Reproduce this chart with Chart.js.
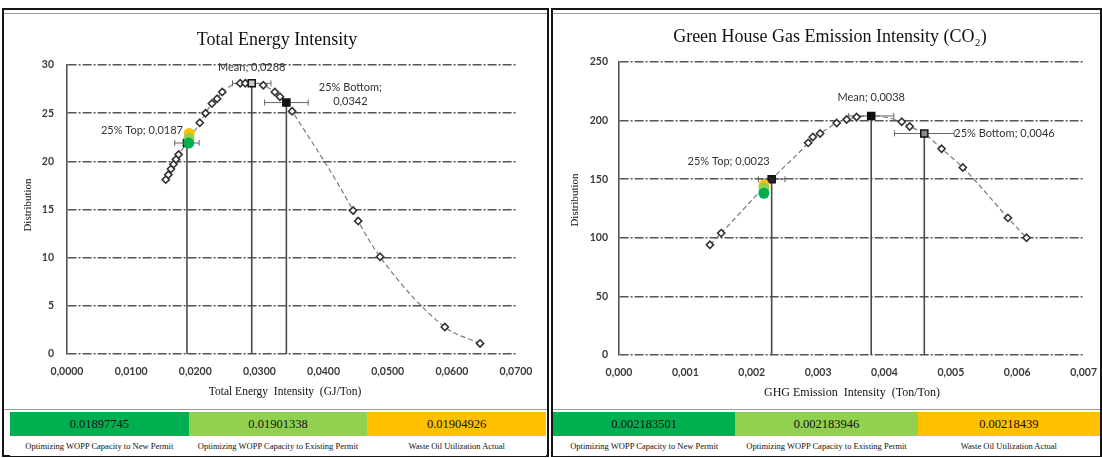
<!DOCTYPE html>
<html>
<head>
<meta charset="utf-8">
<script src="https://cdn.jsdelivr.net/npm/chart.js@4.4.1/dist/chart.umd.min.js"></script>
<style>
  html, body { margin: 0; padding: 0; background: #fff; width: 1102px; height: 458px; overflow: hidden; position: relative; }
  .panel { position: absolute; top: 8px; height: 449px; border: 2px solid #141414; box-sizing: border-box; }
  .rule { position: absolute; height: 0; border-top: 1.5px solid #9a9a9a; }
  canvas { position: absolute; }
  .band { position: absolute; display: flex; }
  .band div { display: flex; align-items: center; justify-content: center; font-family: "Liberation Serif", "Times New Roman", serif; color: #111; }
  .vals div { font-size: 12.5px; height: 24px; }
  .names div { font-size: 8.5px; height: 20px; background: #fff; }
</style>
</head>
<body>
<div class="panel" style="left:2px;width:547px"></div>
<div class="panel" style="left:551px;width:551px"></div>
<div class="rule" style="left:4px;width:543px;top:13px"></div>
<div class="rule" style="left:553px;width:547px;top:13px"></div>
<div class="rule" style="left:4px;width:543px;top:409px"></div>
<div class="rule" style="left:553px;width:547px;top:409px"></div>

<canvas id="energy" width="541" height="397" style="left:5px;top:12px"></canvas>
<canvas id="ghg" width="547" height="397" style="left:553px;top:12px"></canvas>

<div class="band vals" id="energyVals" style="left:10px;top:412px;width:536px"></div>
<div class="band names" id="energyNames" style="left:10px;top:436px;width:536px"></div>
<div class="band vals" id="ghgVals" style="left:553px;top:412px;width:547px"></div>
<div class="band names" id="ghgNames" style="left:553px;top:436px;width:547px"></div>

<script>
// Scenarios compared against both distributions
const scenarioNames = ['Optimizing WOPP Capacity to New Permit', 'Optimizing WOPP Capacity to Existing Permit', 'Waste Oil Utilization Actual'];
const scenarioColors = ['#00b050', '#92d050', '#ffc000'];

// Total energy intensity (GJ/Ton) distribution
const energyX = [0.0154, 0.0158, 0.0162, 0.0166, 0.0170, 0.0174, 0.0207, 0.0216, 0.0226, 0.0234, 0.0242, 0.0270, 0.0278, 0.0306, 0.0324, 0.0332, 0.0351, 0.0446, 0.0454, 0.0488, 0.0589, 0.0644];
const energyY = [18.1, 18.6, 19.2, 19.7, 20.2, 20.7, 24.0, 25.0, 26.0, 26.5, 27.2, 28.1, 28.1, 27.9, 27.2, 26.7, 25.2, 14.9, 13.8, 10.1, 2.8, 1.1];
const energyStatNames = ['25% Top', 'Mean', '25% Bottom'];
const energyStatX = [0.0187, 0.0288, 0.0342];
const energyStatY = [21.9, 28.1, 26.1];
const energyStatErr = [0.0019, 0.0030, 0.0034];
const energyScenarioX = [0.01897745, 0.01901338, 0.01904926];
const energyScenarioY = [21.9, 22.4, 22.9];
const energyXTicks = [0, 0.01, 0.02, 0.03, 0.04, 0.05, 0.06, 0.07];
const energyYTicks = [0, 5, 10, 15, 20, 25, 30];

// GHG emission intensity (Ton CO2/Ton) distribution
const ghgX = [0.00137, 0.00154, 0.00285, 0.00292, 0.00303, 0.00328, 0.00343, 0.00358, 0.00426, 0.00438, 0.00486, 0.00518, 0.00586, 0.00614];
const ghgY = [94, 104, 181, 186, 189, 198, 201, 203, 199, 195, 176, 160, 117, 100];
const ghgStatNames = ['25% Top', 'Mean', '25% Bottom'];
const ghgStatX = [0.0023, 0.0038, 0.0046];
const ghgStatY = [150, 204, 189];
const ghgStatErr = [0.0002, 0.00034, 0.00045];
const ghgScenarioX = [0.002183501, 0.002183946, 0.00218439];
const ghgScenarioY = [138, 142.5, 145];
const ghgXTicks = [0, 0.001, 0.002, 0.003, 0.004, 0.005, 0.006, 0.007];
const ghgYTicks = [0, 50, 100, 150, 200, 250];

const TICK_FONT = { family: 'Lato, "Open Sans", sans-serif', size: 10.5, weight: 'bold' };
const LABEL_FONT = '11px Lato, "Open Sans", sans-serif';
const SERIF = '"Liberation Serif", "Times New Roman", serif';

// Drop lines, error bars and text for the quartile / mean markers
const statMarks = {
  id: 'statMarks',
  beforeDatasetsDraw(chart, args, o) {
    const { ctx, scales: { x, y } } = chart;
    ctx.save();
    const y0 = y.getPixelForValue(0);
    o.xs.forEach((v, i) => {
      const px = x.getPixelForValue(v), py = y.getPixelForValue(o.ys[i]);
      ctx.strokeStyle = '#4a4a4a'; ctx.lineWidth = 1.6; ctx.setLineDash([]);
      ctx.beginPath(); ctx.moveTo(px, y0); ctx.lineTo(px, py); ctx.stroke();
      const l = x.getPixelForValue(v - o.err[i]), r = x.getPixelForValue(v + o.err[i]);
      ctx.strokeStyle = '#666'; ctx.lineWidth = 1;
      ctx.beginPath();
      ctx.moveTo(l, py); ctx.lineTo(r, py);
      ctx.moveTo(l, py - 3); ctx.lineTo(l, py + 3);
      ctx.moveTo(r, py - 3); ctx.lineTo(r, py + 3);
      ctx.stroke();
    });
    ctx.restore();
  },
  afterDraw(chart, args, o) {
    const { ctx, scales: { x, y } } = chart;
    ctx.save();
    ctx.fillStyle = '#333';
    ctx.font = LABEL_FONT;
    ctx.textBaseline = 'middle';
    o.xs.forEach((v, i) => {
      const px = x.getPixelForValue(v), py = y.getPixelForValue(o.ys[i]);
      const p = o.place[i];
      const val = v.toFixed(4).replace('.', ',');
      ctx.textAlign = p.align;
      if (p.split) {
        ctx.fillText(o.names[i] + ';', px + p.dx, py + p.dy);
        ctx.fillText(val, px + p.dx, py + p.dy + 14);
      } else {
        ctx.fillText(o.names[i] + '; ' + val, px + p.dx, py + p.dy);
      }
    });
    // chart title and axis titles
    ctx.fillStyle = '#111';
    ctx.textAlign = 'center';
    ctx.font = '18px ' + SERIF;
    ctx.fillText(o.title.text, o.title.x, o.title.y);
    ctx.font = o.xTitle.size + 'px ' + SERIF;
    ctx.fillText(o.xTitle.text, o.xTitle.x, o.xTitle.y);
    ctx.translate(o.yTitle.x, o.yTitle.y);
    ctx.rotate(-Math.PI / 2);
    ctx.font = '11px ' + SERIF;
    ctx.fillText('Distribution', 0, 0);
    ctx.restore();
  }
};

function buildChart(id, d) {
  const curve = d.x.map((v, i) => ({ x: v, y: d.y[i] }))
    .concat(d.statX.map((v, i) => ({ x: v, y: d.statY[i] })))
    .sort((a, b) => a.x - b.x);
  const dotOrder = [2, 1, 0];
  return new Chart(document.getElementById(id), {
    type: 'scatter',
    data: {
      datasets: [
        { data: curve, showLine: true, pointRadius: 0, borderColor: '#7a7a7a', borderWidth: 1.2,
          borderDash: [5, 3], cubicInterpolationMode: 'monotone', order: 6 },
        { data: d.x.map((v, i) => ({ x: v, y: d.y[i] })), pointStyle: 'rectRot', pointRadius: 3.6,
          backgroundColor: '#fff', borderColor: '#333', borderWidth: 1.6, order: 5 },
        { data: d.statX.map((v, i) => ({ x: v, y: d.statY[i] })), pointStyle: 'rect', pointRadius: 5,
          backgroundColor: d.statFill, borderColor: '#111', borderWidth: 1.5, order: 4 },
        { data: dotOrder.map(i => ({ x: d.scenX[i], y: d.scenY[i] })), pointRadius: 5.5,
          backgroundColor: dotOrder.map(i => scenarioColors[i]), borderWidth: 0, order: 1 }
      ]
    },
    options: {
      responsive: false,
      animation: false,
      events: [],
      layout: { padding: { left: 0, right: d.padRight, top: d.padTop, bottom: 0 } },
      plugins: {
        legend: { display: false },
        tooltip: { enabled: false },
        statMarks: {
          xs: d.statX, ys: d.statY, err: d.statErr, names: d.statNames, place: d.place,
          title: d.title, xTitle: d.xTitle, yTitle: d.yTitle
        }
      },
      scales: {
        x: {
          type: 'linear', min: d.xTicks[0], max: d.xTicks[d.xTicks.length - 1],
          afterBuildTicks: s => { s.ticks = d.xTicks.map(v => ({ value: v })); },
          afterFit: s => { s.height = d.xHeight; },
          ticks: { callback: v => v.toFixed(d.xDigits).replace('.', ','), font: TICK_FONT, color: '#3a3a3a', padding: 3, maxRotation: 0 },
          grid: { display: false },
          border: { display: false }
        },
        y: {
          type: 'linear', min: d.yTicks[0], max: d.yTicks[d.yTicks.length - 1],
          afterBuildTicks: s => { s.ticks = d.yTicks.map(v => ({ value: v })); },
          afterFit: s => { s.width = d.yWidth; },
          ticks: { font: TICK_FONT, color: '#3a3a3a', padding: d.yPad },
          grid: { color: '#555', lineWidth: 1.6, drawTicks: false },
          border: { display: true, color: '#555', width: 1.6, dash: [9, 2, 2, 2] }
        }
      }
    },
    plugins: [statMarks]
  });
}

buildChart('energy', {
  x: energyX, y: energyY, statX: energyStatX, statY: energyStatY, statErr: energyStatErr,
  statNames: energyStatNames, statFill: ['#111', '#c8c8c8', '#111'],
  scenX: energyScenarioX, scenY: energyScenarioY,
  xTicks: energyXTicks, yTicks: energyYTicks, xDigits: 4,
  padRight: 30, padTop: 53, xHeight: 55, yWidth: 62, yPad: 13,
  place: [{ dx: -4, dy: -13, align: 'right' }, { dx: 0, dy: -16, align: 'center' }, { dx: 64, dy: -15, align: 'center', split: true }],
  title: { text: 'Total Energy Intensity', x: 272, y: 28 },
  xTitle: { text: 'Total Energy  Intensity  (GJ/Ton)', x: 280, y: 380, size: 11.5 },
  yTitle: { x: 23, y: 193 }
});

buildChart('ghg', {
  x: ghgX, y: ghgY, statX: ghgStatX, statY: ghgStatY, statErr: ghgStatErr,
  statNames: ghgStatNames, statFill: ['#222', '#111', '#8a8a8a'],
  scenX: ghgScenarioX, scenY: ghgScenarioY,
  xTicks: ghgXTicks, yTicks: ghgYTicks, xDigits: 3,
  padRight: 16, padTop: 50, xHeight: 54, yWidth: 66, yPad: 11,
  place: [{ dx: -2, dy: -18, align: 'right' }, { dx: 0, dy: -18, align: 'center' }, { dx: 30, dy: 0, align: 'left' }],
  title: { text: 'Green House Gas Emission Intensity (CO\u2082)', x: 277, y: 25 },
  xTitle: { text: 'GHG Emission  Intensity  (Ton/Ton)', x: 299, y: 381, size: 12 },
  yTitle: { x: 22, y: 188 }
});

// Scenario tables under each chart
function fillTable(valId, nameId, values) {
  const vals = document.getElementById(valId), names = document.getElementById(nameId);
  values.forEach((v, i) => {
    const c = document.createElement('div');
    c.style.flex = '1'; c.style.background = scenarioColors[i]; c.textContent = String(v);
    vals.appendChild(c);
    const n = document.createElement('div');
    n.style.flex = '1'; n.textContent = scenarioNames[i];
    names.appendChild(n);
  });
}
fillTable('energyVals', 'energyNames', energyScenarioX);
fillTable('ghgVals', 'ghgNames', ghgScenarioX);
</script>
</body>
</html>
